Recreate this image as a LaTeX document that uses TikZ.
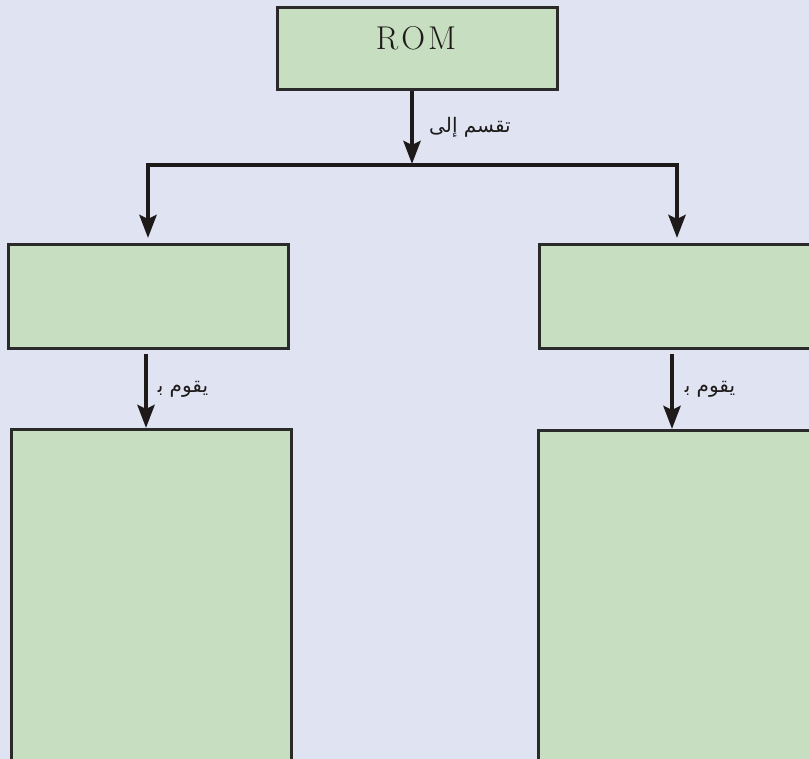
\documentclass[tikz,border=0pt]{standalone}
\usepackage{fontspec}
\usetikzlibrary{arrows.meta}
\newfontfamily\arabicfont[Script=Arabic]{DejaVu Sans}
\TeXXeTstate=1
\definecolor{bgc}{HTML}{E0E3F2}
\definecolor{boxc}{HTML}{C7DFC0}
\definecolor{edgec}{HTML}{2A2A2A}
\definecolor{inkc}{HTML}{1E1A1A}
\tikzset{
  box/.style={draw=edgec, line width=2.6pt, fill=boxc, inner sep=0pt, anchor=north west},
  conn/.style={draw=inkc, line width=4.5pt, line join=miter},
  tip/.style={-{Stealth[length=23pt,width=17pt,inset=4pt]}},
  lbl/.style={font=\arabicfont\fontsize{20}{24}\selectfont, text=inkc, inner sep=0pt},
}
\begin{document}
\begin{tikzpicture}[x=1pt,y=-1pt]
\useasboundingbox (0,0) rectangle (809,759);
\fill[bgc] (0,0) rectangle (809,759);
\clip (0,0) rectangle (809,759);
% boxes
\node[box, minimum width=280pt, minimum height=82pt] (rom) at (276,6) {};
\node[inner sep=0pt, text=inkc, font=\fontsize{33}{38}\selectfont] (romtxt) at (416,38) {R\kern3pt O\kern3pt M};
\node[box, minimum width=280pt, minimum height=104pt] (l1) at (7,243) {};
\node[box, minimum width=300pt, minimum height=104pt] (r1) at (538,243) {};
\node[box, minimum width=280pt, minimum height=360pt] (l2) at (10,428) {};
\node[box, minimum width=300pt, minimum height=360pt] (r2) at (537,429) {};
% junction
\coordinate (jc) at (412,165);
\coordinate (jl) at (148,165);
\coordinate (jr) at (677,165);
\coordinate (lt) at (148,238);
\coordinate (rt) at (677,238);
\draw[conn, tip, shorten >=1pt] (rom.south -| jc) -- (jc);
\draw[conn, {Stealth[length=23pt,width=17pt,inset=4pt]}-{Stealth[length=23pt,width=17pt,inset=4pt]}] (lt) -- (jl) -- (jr) -- (rt);
% second level
\coordinate (ls) at (146,354);
\coordinate (rs) at (672,354);
\draw[conn, tip] (ls) -- (l2.north -| ls);
\draw[conn, tip] (rs) -- (r2.north -| rs);
% labels
\node[lbl] (t1) at (470,127) {\beginR تقسم إلى\endR};
\node[lbl] (t2) at (183,389) {\beginR يقوم ب^^^^200d\endR};
\node[lbl] (t3) at (710,389) {\beginR يقوم ب^^^^200d\endR};
\end{tikzpicture}
\end{document}
